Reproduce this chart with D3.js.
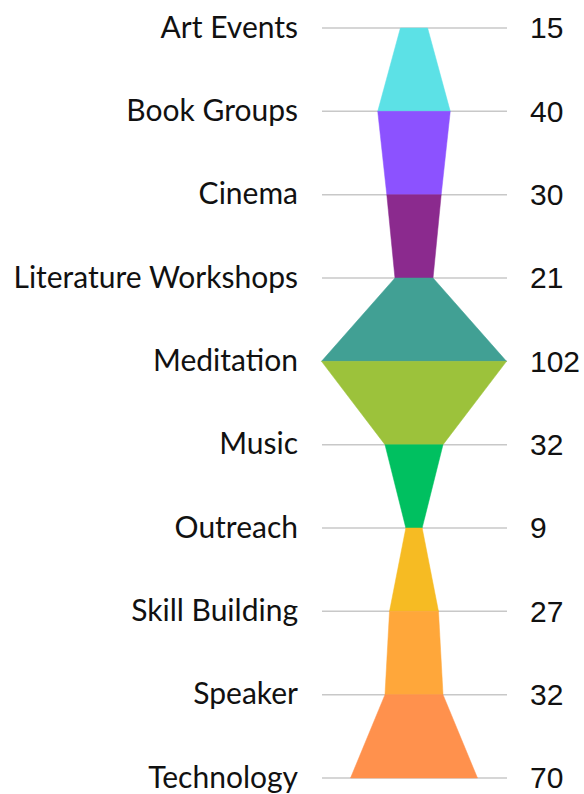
<!DOCTYPE html>
<html>
<head>
<meta charset="utf-8">
<script src="https://cdn.jsdelivr.net/npm/d3@7"></script>
<style>
  body { margin: 0; background: #fff; }
</style>
</head>
<body>
<div id="container"></div>
<script>
/* DATA */
const categories = ["Art Events", "Book Groups", "Cinema", "Literature Workshops", "Meditation",
  "Music", "Outreach", "Skill Building", "Speaker", "Technology"];
const values = [15, 40, 30, 21, 102, 32, 9, 27, 32, 70];
// one colour per band between two rows
const bandColors = ["#5ce1e6", "#8c52ff", "#8b2a8e", "#41a094", "#9cc23b",
  "#00c060", "#f6bb23", "#ffa73a", "#ff914d"];

/* CONSTANTS */
const width = 584, height = 794;
const cx = 414;          // funnel centre line
const gridLeft = 322, gridRight = 507;

const svg = d3.select("#container")
  .append("svg")
  .attr("width", width)
  .attr("height", height);

const yScale = d3.scalePoint()
  .domain(categories)
  .range([28, 778]);

// half-width of the funnel for a value
const halfW = d3.scaleLinear()
  .domain([0, d3.max(values)])
  .range([0, (gridRight - gridLeft) / 2]);

// grid lines
svg.selectAll(".grid")
  .data(categories)
  .join("line")
  .attr("class", "grid")
  .attr("x1", gridLeft)
  .attr("x2", gridRight)
  .attr("y1", d => yScale(d))
  .attr("y2", d => yScale(d))
  .attr("stroke", "#c8c8c8")
  .attr("stroke-width", 1.5);

// bands between consecutive rows
const bands = d3.range(categories.length - 1).map(i => ({
  y0: yScale(categories[i]), w0: halfW(values[i]),
  y1: yScale(categories[i + 1]), w1: halfW(values[i + 1]),
  color: bandColors[i]
}));

svg.selectAll(".band")
  .data(bands)
  .join("path")
  .attr("class", "band")
  .attr("d", d => `M${cx - d.w0},${d.y0}L${cx + d.w0},${d.y0}L${cx + d.w1},${d.y1}L${cx - d.w1},${d.y1}Z`)
  .attr("fill", d => d.color)
  .attr("stroke", d => d.color)
  .attr("stroke-width", 0.5);

// category labels
svg.selectAll(".label")
  .data(categories)
  .join("text")
  .attr("class", "label")
  .attr("x", 298)
  .attr("y", d => yScale(d))
  .attr("dy", "0.32em")
  .attr("text-anchor", "end")
  .style("font-family", "Lato, sans-serif")
  .style("font-size", "30px")
  .style("fill", "#111")
  .text(d => d);

// value labels
svg.selectAll(".value")
  .data(categories)
  .join("text")
  .attr("class", "value")
  .attr("x", 530)
  .attr("y", d => yScale(d))
  .attr("dy", "0.34em")
  .style("font-family", "'Liberation Sans', Arial, sans-serif")
  .style("font-size", "30px")
  .style("fill", "#111")
  .text((d, i) => values[i]);
</script>
</body>
</html>
